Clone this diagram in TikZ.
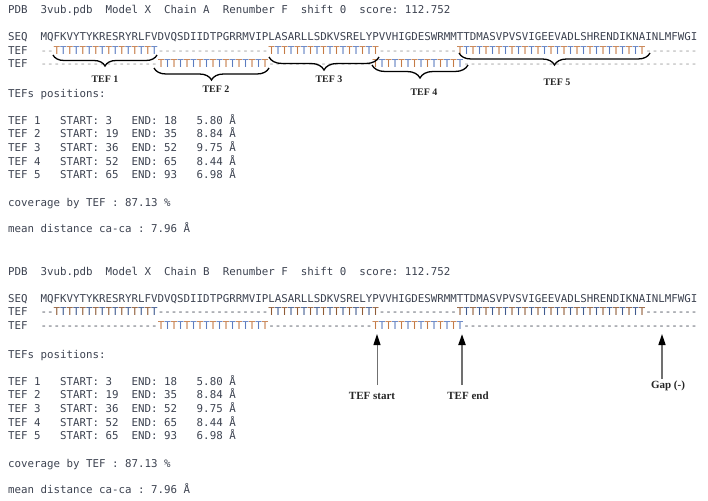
\documentclass[tikz,border=0pt]{standalone}
\usepackage{fontspec}
\setmainfont{Liberation Serif}
\setmonofont{DejaVu Sans Mono}
\usetikzlibrary{decorations.pathreplacing,arrows.meta}
\definecolor{txt}{HTML}{3C4250}
\definecolor{tor}{HTML}{C47A45}
\definecolor{tbl}{HTML}{5B7CC0}
\definecolor{tord}{HTML}{8E5A35}
\definecolor{tbld}{HTML}{3F5A8E}
\definecolor{dgr}{HTML}{A0A0A0}
\definecolor{ddk}{HTML}{505560}
\definecolor{arrgray}{HTML}{707070}
\newcommand\Tr[3]{\foreach \x in {1,...,#1}{\ifodd\x\relax\textcolor{#2}{T}\else\textcolor{#3}{T}\fi}}
\newcommand\Dr[2]{\textcolor{#2}{\foreach \x in {1,...,#1}{-}}}
\begin{document}
\begin{tikzpicture}[x=1pt,y=-1pt,
  mono/.style={anchor=base west, inner sep=0pt, font=\ttfamily\fontsize{10.8}{13}\selectfont, text=txt},
  lbl/.style={font=\bfseries\fontsize{10}{12}\selectfont, text=black!85, inner sep=0pt},
  blbl/.style={font=\bfseries\fontsize{11}{13}\selectfont, text=black!85, inner sep=0pt},
  brc/.style={decorate, decoration={brace,mirror,amplitude=#1}, line width=1.3pt, black},
  arr/.style={draw=arrgray, -{Triangle[width=7pt,length=11pt,black]}}]
\useasboundingbox (0,0) rectangle (708,500);
% ---------- Chain A ----------
\node[mono] (hA) at (8,14) {PDB~~3vub.pdb~~Model~X~~Chain~A~~Renumber~F~~shift~0~~score:~112.752};
\node[mono] (seqA) at (8,41) {SEQ~~MQFKVYTYKRESRYRLFVDVQSDIIDTPGRRMVIPLASARLLSDKVSRELYPVVHIGDESWRMMTTDMASVPVSVIGEEVADLSHRENDIKNAINLMFWGI};
\node[mono] (tA1) at (8,54.5) {TEF~~\Dr{2}{dgr}\Tr{16}{tor}{tbl}\Dr{17}{dgr}\Tr{17}{tor}{tbl}\Dr{12}{dgr}\Tr{29}{tor}{tbl}\Dr{8}{dgr}};
\node[mono] (tA2) at (8,68) {TEF~~\Dr{18}{dgr}\Tr{17}{tor}{tbl}\Dr{16}{dgr}\Tr{14}{tor}{tbl}\Dr{36}{dgr}};
\draw[brc=11] (53,55) -- (157,55);
\draw[brc=12] (154,68) -- (269,68);
\draw[brc=13] (269,57) -- (379,57);
\draw[brc=13] (372,65) -- (468,65);
\draw[brc=12] (459,53) -- (650,53);
\node[lbl] (l1) at (105,79) {TEF 1};
\node[lbl] (l2) at (216,89) {TEF 2};
\node[lbl] (l3) at (329,79) {TEF 3};
\node[lbl] (l4) at (424,92) {TEF 4};
\node[lbl] (l5) at (557,82) {TEF 5};
\node[mono] (pA) at (8,97) {TEFs~positions:};
\node[mono] (rA1) at (8,124) {TEF~1~~~START:~3~~~END:~18~~~5.80~Å};
\node[mono] (rA2) at (8,137.7) {TEF~2~~~START:~19~~END:~35~~~8.84~Å};
\node[mono] (rA3) at (8,151.4) {TEF~3~~~START:~36~~END:~52~~~9.75~Å};
\node[mono] (rA4) at (8,165.1) {TEF~4~~~START:~52~~END:~65~~~8.44~Å};
\node[mono] (rA5) at (8,178.8) {TEF~5~~~START:~65~~END:~93~~~6.98~Å};
\node[mono] (cA) at (8,206) {coverage~by~TEF~:~87.13~\%};
\node[mono] (mA) at (8,232) {mean~distance~ca-ca~:~7.96~Å};
% ---------- Chain B ----------
\node[mono] (hB) at (8,275) {PDB~~3vub.pdb~~Model~X~~Chain~B~~Renumber~F~~shift~0~~score:~112.752};
\node[mono] (seqB) at (8,302) {SEQ~~MQFKVYTYKRESRYRLFVDVQSDIIDTPGRRMVIPLASARLLSDKVSRELYPVVHIGDESWRMMTTDMASVPVSVIGEEVADLSHRENDIKNAINLMFWGI};
\node[mono] (tB1) at (8,315.5) {TEF~~\Dr{2}{ddk}\Tr{16}{tord}{tbld}\Dr{17}{ddk}\Tr{17}{tord}{tbld}\Dr{12}{ddk}\Tr{29}{tord}{tbld}\Dr{8}{ddk}};
\node[mono] (tB2) at (8,329) {TEF~~\Dr{18}{ddk}\Tr{17}{tor}{tbl}\Dr{16}{ddk}\Tr{14}{tor}{tbl}\Dr{36}{ddk}};
\node[mono] (pB) at (8,358) {TEFs~positions:};
\node[mono] (rB1) at (8,385) {TEF~1~~~START:~3~~~END:~18~~~5.80~Å};
\node[mono] (rB2) at (8,398.7) {TEF~2~~~START:~19~~END:~35~~~8.84~Å};
\node[mono] (rB3) at (8,412.4) {TEF~3~~~START:~36~~END:~52~~~9.75~Å};
\node[mono] (rB4) at (8,426.1) {TEF~4~~~START:~52~~END:~65~~~8.44~Å};
\node[mono] (rB5) at (8,439.8) {TEF~5~~~START:~65~~END:~93~~~6.98~Å};
\node[mono] (cB) at (8,467) {coverage~by~TEF~:~87.13~\%};
\node[mono] (mB) at (8,493) {mean~distance~ca-ca~:~7.96~Å};
% ---------- annotations ----------
\node[blbl] (ls) at (372,396) {TEF start};
\node[blbl] (le) at (468,396) {TEF end};
\node[blbl] (lg) at (668,386) {Gap (-)};
\coordinate (sTail) at (377,385);
\coordinate (sTip) at (377,334);
\coordinate (eTail) at (462,385);
\coordinate (eTip) at (462,334);
\coordinate (gTail) at (662,379);
\coordinate (gTip) at (662,334);
\draw[arr, line width=1pt] (sTail) -- (sTip);
\draw[arr, line width=2pt] (eTail) -- (eTip);
\draw[arr, line width=1.5pt] (gTail) -- (gTip);
\end{tikzpicture}
\end{document}
